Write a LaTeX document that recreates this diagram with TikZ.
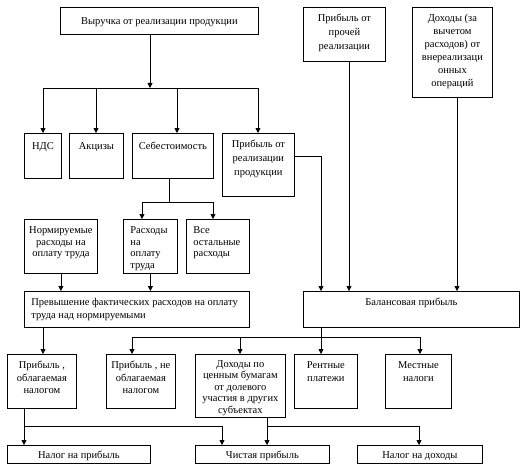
\documentclass[tikz,border=0pt]{standalone}
\usepackage{fontspec}
\setmainfont{Liberation Serif}
\usetikzlibrary{arrows.meta}
\newcommand\Bx[6]{\node[bx] (#1) at (#2,#3) {\parbox[c][\dimexpr #5pt-#3pt\relax][t]{\dimexpr #4pt-#2pt\relax}{#6}};}
\newcommand\Ctr[2][5.5pt]{\vspace*{#1}\centering\strut #2\par}
\newcommand\Lft[2][5.5pt]{\vspace*{#1}\raggedright\leftskip=7pt\strut #2\par}
\tikzset{
  bx/.style={draw, line width=0.8pt, inner sep=0pt, anchor=north west, font=\fontsize{10.5}{12.5}\selectfont},
  ln/.style={line width=0.8pt},
  arr/.style={line width=0.8pt, -{Triangle[length=5pt,width=5pt]}}
}
\begin{document}
\begin{tikzpicture}[x=1pt,y=-1pt]
\useasboundingbox (0,0) rectangle (524,468);
% boxes
\Bx{vyr}{60}{7}{258}{34}{\Ctr[8pt]{Выручка от реализации продукции}}
\Bx{prp}{303}{7}{385}{61}{\Ctr{\baselineskip=14pt Прибыль от\\ прочей\\ реализации}}
\Bx{dok}{412}{7}{492}{97}{\Ctr{\baselineskip=13pt Доходы (за\\ вычетом\\ расходов) от\\ внереализаци\\ онных\\ операций}}
\Bx{nds}{24}{133}{61}{178}{\Ctr[7pt]{НДС}}
\Bx{akc}{69}{133}{123}{178}{\Ctr[7pt]{Акцизы}}
\Bx{seb}{132}{133}{213}{178}{\Ctr[7pt]{Себестоимость}}
\Bx{prr}{222}{133}{294}{196}{\Ctr{\baselineskip=14pt Прибыль от\\ реализации\\ продукции}}
\Bx{nor}{24}{219}{97}{273}{\Ctr{\baselineskip=11.5pt Нормируемые\\ расходы на\\ оплату труда}}
\Bx{ras}{123}{219}{177}{273}{\Lft{\baselineskip=11.5pt Расходы\\ на\\ оплату\\ труда}}
\Bx{vse}{186}{219}{249}{273}{\Lft{\baselineskip=11.5pt Все\\ остальные\\ расходы}}
\Bx{pre}{24}{291}{249}{327}{\Lft{Превышение фактических расходов на оплату\\ труда над нормируемыми}}
\Bx{bal}{303}{291}{519}{327}{\Ctr{Балансовая прибыль}}
\Bx{pob}{7}{354}{76}{408}{\Ctr{Прибыль ,\\ облагаемая\\ налогом}}
\Bx{pne}{106}{354}{175}{408}{\Ctr{Прибыль , не\\ облагаемая\\ налогом}}
\Bx{dcb}{195}{354}{285}{417}{\Ctr[4pt]{\baselineskip=11.5pt Доходы по\\ ценным бумагам\\ от долевого\\ участия в других\\ субъектах}}
\Bx{ren}{294}{354}{357}{408}{\Ctr{Рентные\\ платежи}}
\Bx{mes}{385}{354}{451}{408}{\Ctr{Местные\\ налоги}}
\Bx{np}{7}{445}{150}{463}{\Ctr[4.5pt]{Налог на прибыль}}
\Bx{chp}{195}{445}{329}{463}{\Ctr[4.5pt]{Чистая прибыль}}
\Bx{nd}{357}{445}{482}{463}{\Ctr[4.5pt]{Налог на доходы}}
% bus under revenue
\coordinate (b1) at (150,88);
\coordinate (b1l) at (43,88);
\coordinate (b1a) at (96,88);
\coordinate (b1s) at (177,88);
\coordinate (b1r) at (258,88);
\draw[arr] (b1 |- vyr.south) -- (b1);
\draw[ln] (b1l) -- (b1r);
\draw[arr] (b1l) -- (b1l |- nds.north);
\draw[arr] (b1a) -- (b1a |- akc.north);
\draw[arr] (b1s) -- (b1s |- seb.north);
\draw[arr] (b1r) -- (b1r |- prr.north);
% cost split
\coordinate (s1) at (169,202);
\coordinate (s1l) at (142,202);
\coordinate (s1r) at (213,202);
\draw[ln] (s1 |- seb.south) -- (s1);
\draw[ln] (s1l) -- (s1r);
\draw[arr] (s1l) -- (s1l |- ras.north);
\draw[arr] (s1r) -- (s1r |- vse.north);
% to excess
\draw[arr] (nor.south) -- (nor.south |- pre.north);
\draw[arr] (ras.south) -- (ras.south |- pre.north);
% to balance profit
\coordinate (c1) at (321,156);
\coordinate (c2) at (349,291);
\coordinate (c3) at (457,291);
\draw[arr] (c1 -| prr.east) -- (c1) -- (c1 |- bal.north);
\draw[arr] (c2 |- prp.south) -- (c2);
\draw[arr] (c3 |- dok.south) -- (c3);
% from balance profit
\coordinate (d1) at (321,337);
\coordinate (d1l) at (132,337);
\coordinate (d1m) at (240,337);
\coordinate (d1r) at (420,337);
\draw[ln] (d1 |- bal.south) -- (d1);
\draw[ln] (d1l) -- (d1r);
\draw[arr] (d1l) -- (d1l |- pne.north);
\draw[arr] (d1m) -- (d1m |- dcb.north);
\draw[arr] (d1) -- (d1 |- ren.north);
\draw[arr] (d1r) -- (d1r |- mes.north);
% excess to taxable
\coordinate (e1) at (43,354);
\draw[arr] (e1 |- pre.south) -- (e1);
% taxable profit split
\coordinate (f1) at (24,426);
\coordinate (f2) at (222,426);
\draw[ln] (f1 |- pob.south) -- (f1) -- (f2);
\draw[arr] (f1) -- (f1 |- np.north);
\draw[arr] (f2) -- (f2 |- chp.north);
% securities income split
\coordinate (g1) at (267,426);
\coordinate (g2) at (419,426);
\draw[ln] (g1 |- dcb.south) -- (g1) -- (g2);
\draw[arr] (g1) -- (g1 |- chp.north);
\draw[arr] (g2) -- (g2 |- nd.north);
\end{tikzpicture}
\end{document}
